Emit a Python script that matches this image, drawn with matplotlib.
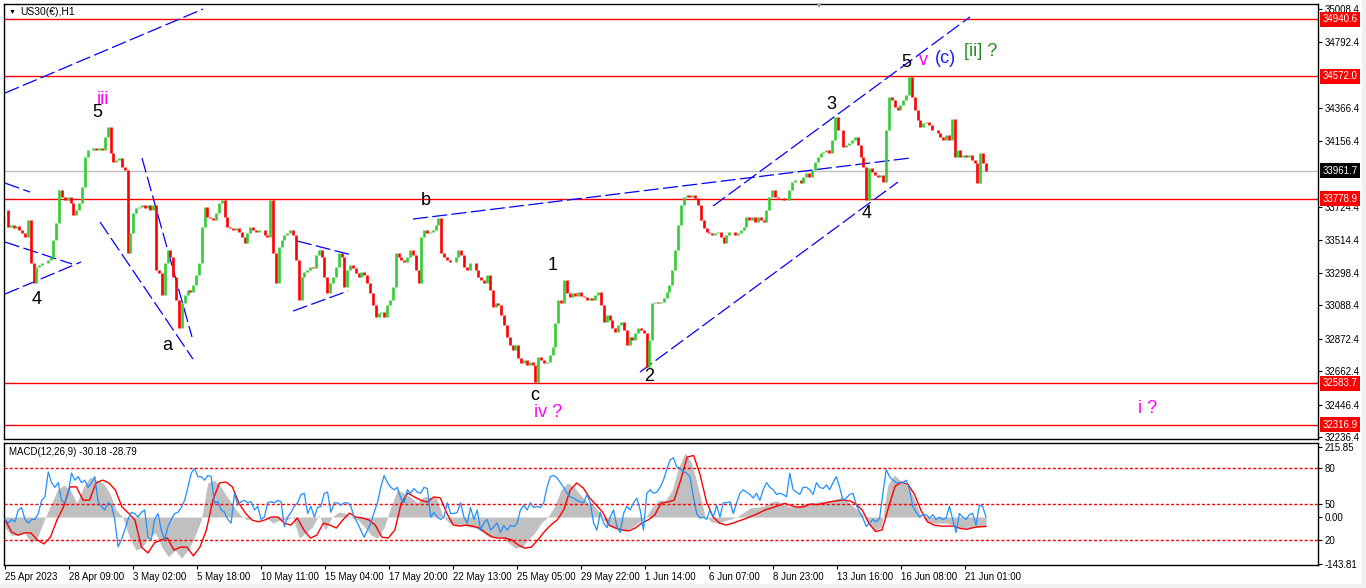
import numpy as np
import matplotlib
matplotlib.use("Agg")
import matplotlib.pyplot as plt
import matplotlib.transforms as mtransforms
from matplotlib.collections import LineCollection
from matplotlib.patches import Rectangle

plt.rcParams['font.family'] = ['Liberation Sans', 'DejaVu Sans']

# US30 H1 closes, 25 Apr -> 21 Jun 2023 (about one point per 3 bars)
closes = [
    33707, 33596, 33610, 33590, 33600, 33580, 33558, 33532, 33642, 33363, 33234, 33337, 33350, 33363, 33363,
    33383, 33402, 33512, 33622, 33836, 33791, 33771, 33791, 33752, 33674, 33707, 33752, 33855, 34050, 34095,
    34095, 34108, 34095, 34108, 34095, 34179, 34244, 34076, 34017, 34030, 34043, 33985, 33966, 33428, 33558,
    33687, 33720, 33726, 33739, 33720, 33739, 33707, 33739, 33318, 33298, 33156, 33363, 33447, 33402, 33272,
    33124, 32943, 33104, 33156, 33188, 33175, 33221, 33285, 33363, 33596, 33726, 33661, 33655, 33642, 33687,
    33752, 33771, 33661, 33596, 33590, 33577, 33590, 33564, 33532, 33493, 33558, 33596, 33577,
    33564, 33577, 33577, 33545, 33532, 33771, 33428, 33234, 33467, 33512, 33545, 33558, 33577, 33545, 33383,
    33124, 33272, 33305, 33318, 33337, 33331, 33415, 33447, 33402, 33272, 33169, 33234, 33272, 33337, 33428,
    33402, 33208, 33318, 33350, 33331, 33298, 33272, 33305, 33285, 33234, 33169, 33091, 33014, 33039, 33046,
    33014, 33091, 33124, 33208, 33428, 33402, 33383, 33370, 33402, 33447, 33415, 33318, 33234, 33532, 33577,
    33558, 33564, 33577, 33609, 33655, 33428, 33402, 33383, 33370, 33370, 33402, 33447, 33415, 33337, 33318,
    33363, 33363, 33318, 33272, 33253, 33234, 33285, 33188, 33078, 33104, 33091,
    33026, 32962, 32884, 32832, 32800, 32832, 32748, 32716, 32735, 32703, 32722, 32703, 32593, 32754, 32735,
    32716, 32722, 32767, 32819, 32975, 33124, 33104, 33253, 33169, 33143, 33169, 33149, 33175, 33149, 33143,
    33124, 33136, 33124, 33156, 33175, 33091, 32981, 33026, 32994, 32943, 32916, 32962, 32981, 32929, 32832,
    32884, 32865, 32910, 32943, 32929, 32910, 32690, 32865, 33104, 33110, 33104, 33110, 33136, 33175, 33221,
    33318, 33447, 33609, 33739, 33791,
    33804, 33791, 33804, 33784, 33739, 33642, 33590, 33564, 33558, 33545, 33558, 33564, 33532, 33493, 33545,
    33564, 33564, 33545, 33558, 33577, 33596, 33661, 33642, 33661, 33629, 33661, 33642, 33629, 33707, 33791,
    33836, 33791, 33784, 33784, 33771, 33771, 33836, 33888, 33901, 33901, 33881, 33920, 33946, 33920, 33966,
    34017, 34050, 34076, 34082, 34095, 34076, 34160, 34309, 34225, 34225, 34115, 34128, 34140, 34160, 34179,
    34128, 34050, 33985, 33771, 33979, 33953, 33933, 33920, 33933, 33888, 34225, 34438, 34419, 34374, 34354,
    34387, 34419, 34451, 34568, 34438, 34354, 34289, 34244, 34270, 34276, 34257, 34225, 34225, 34205, 34179,
    34160, 34192, 34160, 34296, 34050, 34095, 34050, 34063, 34050, 34063, 34030, 34011, 33881, 34076, 34011,
    33962,
]

macd_main = [
    -34, -56, -56, -49, -80, -62, -9, 37, 83, 99, 83, 43, 93, 123, 114, 105, 74, 22, 0, -62,
    -102, -93, -62, -49, -93, -123, -102, -127, -102, -62, -9, 105, 114, 93, 62, 31, 6, -9, 0, 0,
    -3, -19, -9, -9, 0, -65, -49, -31, 6, -40, 0, 15, 12, -3, -9, -31, -56, -65, -31, 31,
    83, 74, 62, 43, 62, 62, 59, 0, -19, -25, -25, -31, -34, -46, -62, -62, -62,
    -80, -96, -93, -71, -49, -19, 0, 31, 83, 105, 93, 68, 46, 37, 12, -25, -34, -40, -40, -31,
    -15, 0, 31, 52, 52, 83, 154, 198, 167, 90, 6, -15, -19, -12, -6, 2, 15, 28, 30, 33,
    45, 50, 40, 31, 34, 40, 43, 45, 49, 49, 55, 62, 45, 27, 12, -20, -43, -30, 100, 130,
    110, 95, 60, 5, -15, -19, -19, -19, -25, -34, -33, -31, -30, -30,
]

macd_signal = [
    -9, -46, -56, -49, -49, -71, -83, -62, -9, 31, 93, 93, 52, 52, 105, 114, 105, 83, 31, 12,
    -9, -93, -111, -80, -71, -65, -102, -93, -93, -120, -93, -40, 52, 105, 108, 93, 43, 12, -9, -15,
    -9, 0, 0, -19, -25, -3, -40, -65, -56, -19, -25, -34, -9, 12, 0, -3, -9, -25, -62, -65,
    -40, 43, 74, 62, 52, 46, 62, 59, 12, -25, -28, -25, -28, -34, -49, -62, -65, -65,
    -71, -86, -96, -93, -71, -46, -25, -9, 22, 83, 105, 90, 59, 37, 15, -25, -34, -40, -43, -34,
    -19, -9, 6, 43, 46, 52, 114, 185, 190, 130, 45, 0, -19, -25, -19, -12, -5, 3, 12, 22,
    28, 35, 42, 35, 30, 32, 40, 38, 42, 47, 50, 52, 50, 40, 20, -20, -45, -40, 30, 95,
    108, 100, 70, 20, -15, -25, -28, -28, -28, -35, -38, -33, -30, -29,
]

rsi_line = [
    37, 34, 37, 35, 45, 47, 37, 34, 37, 37, 42, 53, 56, 77, 68, 64, 68, 53, 51, 59,
    76, 70, 73, 68, 70, 64, 68, 73, 52, 48, 45, 51, 49, 37, 14, 20, 28, 37, 43, 42,
    39, 43, 45, 22, 20, 37, 42, 28, 20, 31, 37, 42, 43, 47, 53, 64, 76, 80, 73, 73,
    70, 74, 73, 51, 52, 45, 43, 37, 34, 59, 49, 52, 53, 51, 52, 45, 48, 37, 39, 51,
    52, 51, 53, 52, 31, 39, 43, 48, 51, 58, 59, 42, 48, 39, 47, 48, 59, 60, 43, 51,
    51, 49, 51, 51, 48, 39, 34, 28, 22, 28, 34, 43, 51, 64, 74, 68, 64, 62, 64, 55,
    51, 62, 59, 63, 60, 59, 64, 63, 39, 43, 39, 37, 39, 51, 42, 42, 43, 51, 39, 34,
    47, 37, 45, 28, 34, 37, 28,
    31, 34, 26, 32, 28, 32, 31, 34, 45, 49, 45, 51, 47, 48, 47, 51, 64, 73, 74, 72,
    68, 64, 59, 56, 55, 53, 52, 51, 58, 51, 34, 28, 43, 34, 30, 39, 45, 31, 26, 42,
    48, 45, 51, 55, 45, 28, 59, 62, 59, 60, 64, 70, 79, 87, 89, 81, 80, 77, 76, 73,
    56, 42, 38, 39, 37, 45, 39, 49, 39, 51, 51, 52, 42, 51, 59, 62, 60, 58, 55, 59,
    53, 62, 68, 64, 62, 58, 59, 58, 56, 76, 62, 60, 58, 64, 64, 62, 58, 68, 64, 63,
    66, 62, 68, 73, 64, 53, 55, 58, 59, 49, 43, 38, 31, 34, 37, 35, 38, 59, 79, 73,
    70, 68, 68, 68, 70, 62, 48, 43, 39, 41, 41, 38, 41, 37, 39, 37, 38, 48, 37, 26,
    42, 39, 37, 41, 42, 32, 49, 48, 39,
]

price_ticks = [35008.4, 34792.4, 34366.4, 34156.4, 33724.4, 33514.4,
               33298.4, 33088.4, 32872.4, 32662.4, 32446.4, 32236.4]
level_lines = [34940.6, 34572.0, 33778.9, 32583.7, 32316.9]
last_price = 33961.7

date_labels = ["25 Apr 2023", "28 Apr 09:00", "3 May 02:00", "5 May 18:00", "10 May 11:00",
               "15 May 04:00", "17 May 20:00", "22 May 13:00", "25 May 05:00", "29 May 22:00",
               "1 Jun 14:00", "6 Jun 07:00", "8 Jun 23:00", "13 Jun 16:00", "16 Jun 08:00",
               "21 Jun 01:00"]

# trendlines: (bar, price) -> (bar, price)
trendlines = [
    ((0, 34464), (198, 35008)),
    ((0, 33881), (25, 33823)),
    ((0, 33499), (67, 33357)),
    ((0, 33162), (76, 33370)),
    ((95, 33629), (188, 32741)),
    ((137, 34043), (187, 32884)),
    ((292, 33506), (347, 33415)),
    ((288, 33052), (343, 33182)),
    ((408, 33648), (905, 34043)),
    ((635, 32657), (893, 33888)),
    ((708, 33732), (965, 34957)),
]

# wave labels: text, bar, price, colour
wave_labels = [
    ("5", 92, 34335, "black"), ("iii", 98, 34425, "#ff00ff"), ("4", 32, 33124, "black"),
    ("a", 162, 32826, "black"), ("b", 421, 33765, "black"), ("c", 530, 32502, "black"),
    ("iv ?", 543, 32392, "#ff00ff"), ("1", 548, 33350, "black"), ("2", 644, 32625, "black"),
    ("3", 826, 34387, "black"), ("4", 862, 33681, "black"), ("5", 901, 34659, "black"),
    ("v", 918, 34672, "#ff00ff"), ("(c)", 940, 34685, "#1a1aff"), ("[ii] ?", 976, 34730, "#228b22"),
    ("i ?", 1143, 32424, "#ff00ff"),
]

W, H = 1366, 588
fig = plt.figure(figsize=(W / 100, H / 100), dpi=100)
fig.patch.set_facecolor("white")
ax = fig.add_axes([4 / W, (H - 439) / H, 1314 / W, 435 / H])
axm = fig.add_axes([4 / W, (H - 565) / H, 1314 / W, 122 / H])

last_bar = 981
ax.set_xlim(-1, 1313)
ax.set_ylim(32223.3, 35040.8)
axm.set_xlim(-1, 1313)
axm.set_ylim(-148.1, 228.4)

# horizontal levels
for lv in level_lines:
    ax.axhline(lv, color="red", lw=1.0, zorder=1)
ax.axhline(last_price, color="#c0c0c0", lw=1.0, zorder=1)

# price bars
xb = np.linspace(0, last_bar, len(closes))
segs, cols = [], []
for i in range(1, len(closes)):
    segs.append([(xb[i], closes[i - 1]), (xb[i], closes[i])])
    cols.append("#32cd32" if closes[i] >= closes[i - 1] else "red")
ax.add_collection(LineCollection(segs, colors=cols, linewidths=1.9, zorder=3))

for (x0, y0), (x1, y1) in trendlines:
    ax.plot([x0, x1], [y0, y1], color="blue", lw=0.9, dashes=(12, 3.5), zorder=2)

for txt, bx, py, c in wave_labels:
    ax.text(bx, py, txt, color=c, fontsize=13, ha="center", va="center", zorder=4)

# right price scale
ax.yaxis.tick_right()
ax.set_yticks(price_ticks)
ax.set_yticklabels([f"{v:.1f}" for v in price_ticks])
ax.tick_params(axis="y", direction="out", length=3, width=0.8, pad=2, labelsize=7)
ax.set_xticks([])
for sp in ax.spines.values():
    sp.set_linewidth(1.0)

trans = mtransforms.blended_transform_factory(ax.transAxes, ax.transData)
for lv in level_lines:
    ax.text(1.0032, lv, f"{lv:.1f}", transform=trans, color="white", fontsize=7,
            ha="left", va="center", clip_on=False, zorder=6,
            bbox=dict(boxstyle="square,pad=0.25", fc="red", ec="none"))
ax.text(1.0032, last_price, f"{last_price:.1f}", transform=trans, color="white", fontsize=7,
        ha="left", va="center", clip_on=False, zorder=6,
        bbox=dict(boxstyle="square,pad=0.25", fc="black", ec="none"))

# MACD window
xm = np.linspace(0, last_bar, len(macd_main))
xs = np.linspace(0, last_bar, len(macd_signal))
xr = np.linspace(0, last_bar, len(rsi_line))
axm.fill_between(xm, 0, macd_main, color="#c0c0c0", lw=0, zorder=1)
axm.plot(xs, macd_signal, color="red", lw=1.0, zorder=3)

axr = axm.twinx()
axr.set_ylim(-1.3, 101.3)
for lv in [80, 50, 20]:
    axr.axhline(lv, color="red", lw=1.0, dashes=(2.2, 1.5), zorder=1)
axr.plot(xr, rsi_line, color="#1e90ff", lw=0.9, zorder=2)
axr.set_yticks([80, 50, 20])
axr.set_yticklabels(["80", "50", "20"])
axr.tick_params(axis="y", direction="out", length=3, width=0.8, pad=2, labelsize=7)
for sp in axr.spines.values():
    sp.set_visible(False)

axm.yaxis.tick_right()
axm.set_yticks([215.85, 0.0, -143.81])
axm.set_yticklabels(["215.85", "0.00", "-143.81"])
axm.tick_params(axis="y", direction="out", length=3, width=0.8, pad=2, labelsize=7)
for sp in axm.spines.values():
    sp.set_linewidth(1.0)

date_pos = np.arange(len(date_labels)) * 64
axm.set_xticks(date_pos)
axm.set_xticklabels(date_labels)
axm.tick_params(axis="x", direction="out", length=3, width=0.8, pad=2, labelsize=7)
for lbl in axm.get_xticklabels():
    lbl.set_ha("left")

# captions
fig.text(12 / W, 1 - 12 / H, "▼", fontsize=5, ha="center", va="center")
fig.text(20 / W, 1 - 12 / H, "US30(€),H1", fontsize=7.5, ha="left", va="center")
fig.text(9 / W, 1 - 452 / H, "MACD(12,26,9) -30.18 -28.79", fontsize=7, ha="left", va="center")
fig.text(818 / W, 1 - 6 / H, "▼", fontsize=6, color="#a0a0a0", ha="center", va="center")

fig.patches.append(Rectangle((1362 / W, 0), 4 / W, 1, transform=fig.transFigure,
                             color="#f0f0f0", zorder=0))
fig.patches.append(Rectangle((0, 0), 1, 4 / H, transform=fig.transFigure,
                             color="#f0f0f0", zorder=0))

fig.savefig("out.png", dpi=100)
